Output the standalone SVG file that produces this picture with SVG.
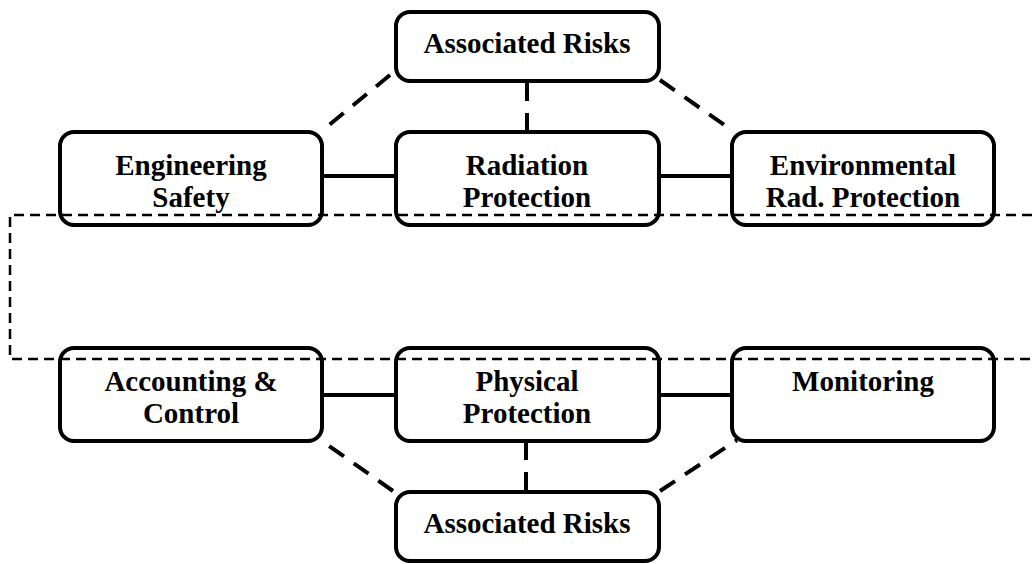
<svg xmlns="http://www.w3.org/2000/svg" width="1032" height="564" viewBox="0 0 1032 564">
<style>
.box{fill:none;stroke:#000;stroke-width:4}
.t{font-family:"Liberation Serif","Times New Roman",serif;font-weight:bold;font-size:29px;text-anchor:middle;fill:#000}
.solid{stroke:#000;stroke-width:4;fill:none}
.dash{stroke:#000;stroke-width:4;fill:none;stroke-dasharray:18 12}
.frame{stroke:#000;stroke-width:2.5;fill:none;stroke-dasharray:10 6}
</style>
<rect width="1032" height="564" fill="#fff"/>
<g id="connectors">
<line class="solid" x1="322" y1="176" x2="396" y2="176"/>
<line class="solid" x1="658" y1="176" x2="732" y2="176"/>
<line class="solid" x1="322" y1="395" x2="396" y2="395"/>
<line class="solid" x1="658" y1="395" x2="732" y2="395"/>
<line class="dash" x1="390" y1="75" x2="323" y2="130"/>
<line class="dash" x1="527" y1="83" x2="527" y2="130"/>
<line class="dash" x1="660" y1="80" x2="733" y2="131"/>
<line class="dash" x1="393" y1="491" x2="322" y2="441"/>
<line class="dash" x1="526" y1="490" x2="526" y2="443"/>
<line class="dash" x1="660" y1="491" x2="737" y2="440"/>
</g>
<g id="risks-top"><rect class="box" x="396" y="12" width="263" height="69" rx="14"/><text class="t" x="527" y="53">Associated Risks</text></g>
<g id="engineering-safety"><rect class="box" x="60" y="132" width="262" height="93" rx="14"/><text class="t" x="191" y="175">Engineering</text><text class="t" x="191" y="207">Safety</text></g>
<g id="radiation-protection"><rect class="box" x="396" y="132" width="263" height="93" rx="14"/><text class="t" x="527" y="175">Radiation</text><text class="t" x="527" y="207">Protection</text></g>
<g id="environmental"><rect class="box" x="732" y="132" width="262" height="93" rx="14"/><text class="t" x="863" y="175">Environmental</text><text class="t" x="863" y="207">Rad. Protection</text></g>
<g id="accounting"><rect class="box" x="60" y="348" width="262" height="93" rx="14"/><text class="t" x="191" y="391">Accounting &amp;</text><text class="t" x="191" y="423">Control</text></g>
<g id="physical-protection"><rect class="box" x="396" y="348" width="263" height="93" rx="14"/><text class="t" x="527" y="391">Physical</text><text class="t" x="527" y="423">Protection</text></g>
<g id="monitoring"><rect class="box" x="732" y="348" width="262" height="93" rx="14"/><text class="t" x="863" y="391">Monitoring</text></g>
<g id="risks-bottom"><rect class="box" x="396" y="492" width="263" height="69" rx="14"/><text class="t" x="527" y="533">Associated Risks</text></g>
<g id="frame"><path class="frame" d="M1032 215 H10 V359 H1032"/></g>
</svg>
